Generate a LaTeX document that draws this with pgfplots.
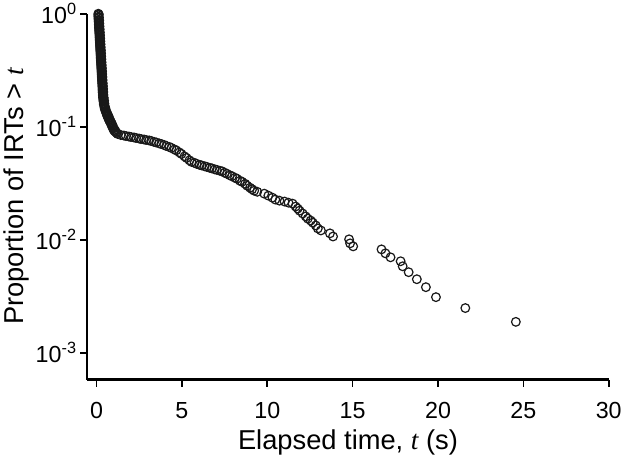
\documentclass[border=0pt]{standalone}
\usepackage{fontspec}
\setmainfont{Liberation Sans}
\newfontfamily\seriffont{Liberation Serif}
\usepackage{pgfplots}
\pgfplotsset{compat=1.18}
\newcommand{\tvar}{{\seriffont\itshape t}}

% survival curve of inter-response times
\pgfplotstableread{
t y
0.10 1.000
0.10 0.970
0.11 0.941
0.11 0.913
0.12 0.886
0.12 0.860
0.13 0.833
0.13 0.808
0.14 0.784
0.14 0.761
0.15 0.738
0.15 0.716
0.16 0.695
0.16 0.674
0.17 0.654
0.17 0.634
0.18 0.615
0.18 0.597
0.19 0.579
0.19 0.562
0.20 0.545
0.20 0.529
0.21 0.513
0.21 0.497
0.22 0.482
0.22 0.468
0.23 0.454
0.23 0.440
0.24 0.427
0.24 0.414
0.25 0.402
0.25 0.390
0.26 0.378
0.26 0.367
0.27 0.356
0.27 0.345
0.28 0.335
0.28 0.325
0.29 0.315
0.29 0.306
0.30 0.297
0.30 0.288
0.31 0.279
0.31 0.271
0.32 0.263
0.32 0.255
0.33 0.247
0.33 0.240
0.34 0.233
0.34 0.226
0.35 0.219
0.35 0.212
0.36 0.206
0.36 0.200
0.37 0.194
0.37 0.188
0.38 0.182
0.39 0.177
0.40 0.172
0.41 0.167
0.42 0.162
0.43 0.157
0.45 0.152
0.47 0.147
0.49 0.143
0.52 0.139
0.55 0.135
0.58 0.131
0.61 0.127
0.65 0.123
0.69 0.119
0.73 0.115
0.77 0.112
0.81 0.109
0.85 0.106
0.89 0.102
0.93 0.0994
0.97 0.0964
1.01 0.0935
1.06 0.0915
1.12 0.0898
1.18 0.0880
1.24 0.0863
1.42 0.0845
1.60 0.0836
1.72 0.0828
1.89 0.0820
2.01 0.0812
2.19 0.0804
2.31 0.0796
2.49 0.0787
2.60 0.0779
2.78 0.0772
2.90 0.0764
3.08 0.0757
3.20 0.0749
3.37 0.0734
3.49 0.0727
3.67 0.0712
3.79 0.0704
3.96 0.0690
4.08 0.0676
4.26 0.0663
4.38 0.0650
4.56 0.0630
4.67 0.0618
4.85 0.0593
4.97 0.0575
5.15 0.0547
5.27 0.0530
5.44 0.0505
5.56 0.0489
5.74 0.0479
5.86 0.0470
6.04 0.0460
6.15 0.0455
6.33 0.0447
6.45 0.0442
6.63 0.0433
6.75 0.0429
6.92 0.0420
7.04 0.0416
7.22 0.0408
7.34 0.0404
7.51 0.0392
7.63 0.0384
7.81 0.0372
7.93 0.0365
8.11 0.0354
8.22 0.0347
8.40 0.0333
8.52 0.0326
8.70 0.0313
8.82 0.0301
8.99 0.0289
9.11 0.0280
9.23 0.0272
9.41 0.0266
9.82 0.0256
10.06 0.0246
10.30 0.0236
10.47 0.0227
10.71 0.0222
11.01 0.0218
11.24 0.0213
11.48 0.0209
11.66 0.0197
11.78 0.0189
11.89 0.0181
12.07 0.0171
12.25 0.0161
12.37 0.0154
12.54 0.0148
12.66 0.0142
12.84 0.0134
12.96 0.0126
13.14 0.0121
13.67 0.0114
13.85 0.0107
14.79 0.0101
14.85 0.0093
15.03 0.00875
16.69 0.00823
16.92 0.00759
17.22 0.0070
17.81 0.00646
17.93 0.00583
18.28 0.00517
18.76 0.00448
19.29 0.00381
19.88 0.00311
21.60 0.00249
24.56 0.00188
}\irt

% the densely packed rows of the steep part (short intervals)
\pgfplotstableread{
t y
0.13 0.985
0.14 0.927
0.15 0.873
0.16 0.820
0.17 0.772
0.18 0.727
0.19 0.684
0.20 0.644
0.21 0.606
0.22 0.570
0.23 0.537
0.24 0.505
0.25 0.475
0.26 0.447
0.27 0.420
0.28 0.396
0.29 0.372
0.30 0.350
0.31 0.330
0.32 0.310
0.33 0.292
0.34 0.275
0.35 0.259
0.36 0.243
0.37 0.229
0.38 0.216
0.39 0.203
0.40 0.191
0.42 0.180
0.44 0.170
0.46 0.160
0.49 0.150
0.52 0.145
0.56 0.137
0.60 0.133
0.64 0.129
0.68 0.125
0.72 0.121
0.76 0.117
0.80 0.113
0.84 0.110
0.88 0.107
0.92 0.104
0.96 0.100
1.00 0.097
1.05 0.094
1.10 0.092
}\irtdense

\begin{document}
\begin{tikzpicture}
\begin{axis}[
    scale only axis, width=516pt, height=362pt,
    xmin=-0.55, xmax=30, ymin=5.8e-4, ymax=1,
    ymode=log,
    axis lines=left,
    axis line style={-, line width=2.2pt},
    xtick={0,5,...,30},
    ytick={0.001,0.01,0.1,1},
    yticklabels={10\textsuperscript{-3},10\textsuperscript{-2},10\textsuperscript{-1},10\textsuperscript{0}},
    yminorticks=false,
    tick style={black, line width=1.6pt},
    major tick length=7pt,
    tick align=outside,
    ticklabel style={font=\fontsize{23}{23}\selectfont},
    xticklabel style={yshift=-12pt},
    /pgf/number format/assume math mode=true,
    xlabel={Elapsed time, \tvar\ (s)},
    xlabel style={at={(axis description cs:0.5,0)}, anchor=center, yshift=-62pt},
    ylabel={Proportion of IRTs > \tvar},
    label style={font=\fontsize{27}{27}\selectfont},
    clip=false,
]
\addplot[only marks, mark=o, mark size=4.3pt, mark options={line width=1.2pt, draw=black!90}] table {\irt};
\addplot[only marks, mark=o, mark size=4.3pt, mark options={line width=1.2pt, draw=black!90}] table {\irtdense};
\end{axis}
\end{tikzpicture}
\end{document}
